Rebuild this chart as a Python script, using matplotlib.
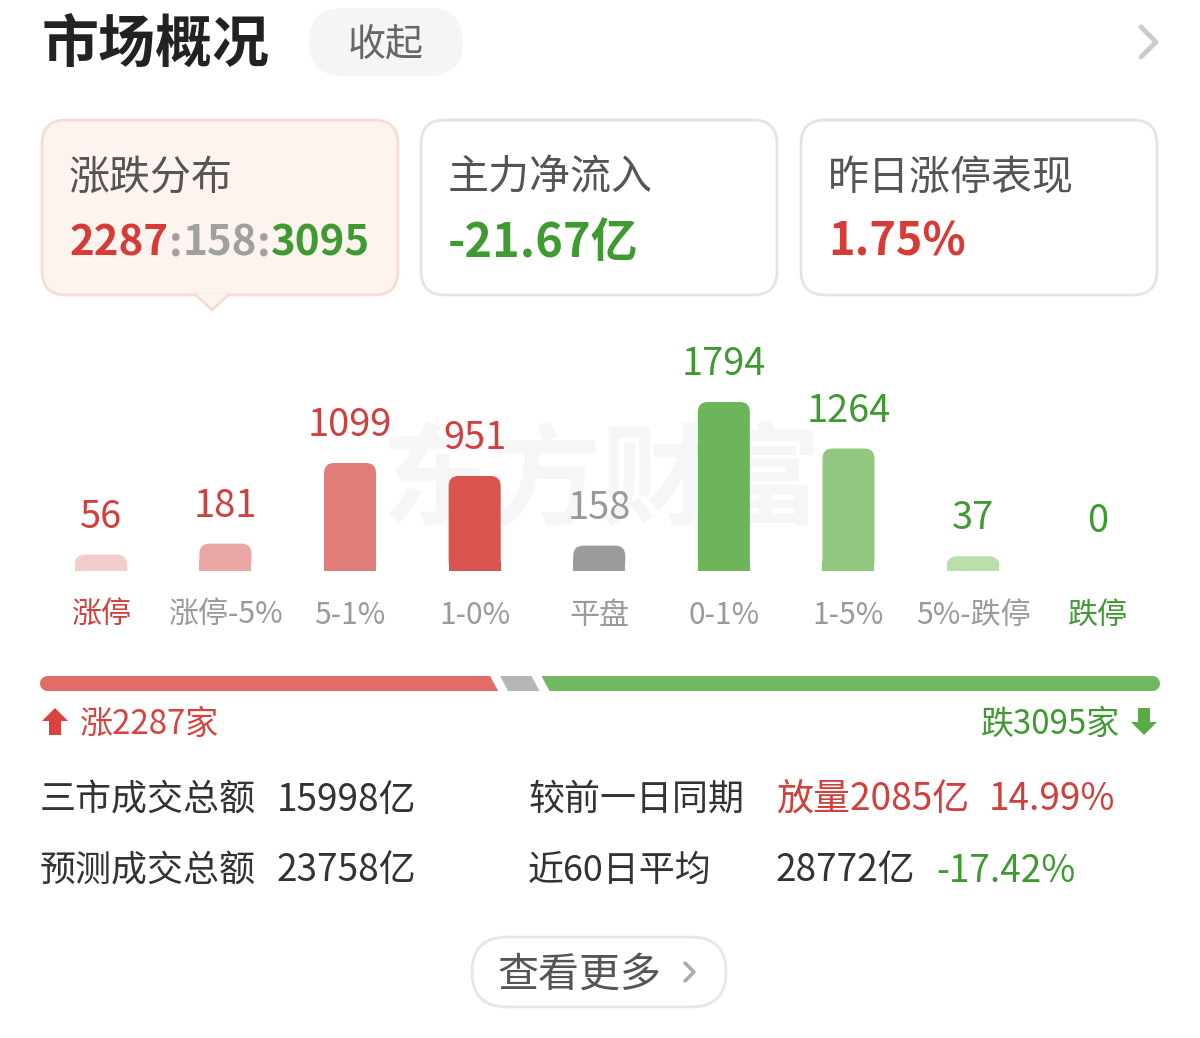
import numpy as np
import matplotlib
matplotlib.use('Agg')
import matplotlib.pyplot as plt
from matplotlib.patches import FancyBboxPatch, Rectangle, Polygon

plt.rcParams['font.family'] = ['Noto Sans CJK SC', 'DejaVu Sans']

# 数据
categories = ['涨停', '涨停-5%', '5-1%', '1-0%', '平盘', '0-1%', '1-5%', '5%-跌停', '跌停']
counts = [56, 181, 1099, 951, 158, 1794, 1264, 37, 0]
bar_colors = ['#f3cdcc', '#e9a6a5', '#e07d79', '#d9534f', '#9b9b9b',
              '#6db55a', '#92c77f', '#badfac', '#badfac']
value_colors = ['#d0403c'] * 4 + ['#999999'] + ['#3f9a32'] * 4
label_colors = ['#d0403c'] + ['#9a9a9a'] * 7 + ['#3f9a32']

up_n, flat_n, down_n = 2287, 158, 3095
card_titles = ['涨跌分布', '主力净流入', '昨日涨停表现']
net_inflow = '-21.67亿'
limit_perf = '1.75%'
stat_rows = [
    ['三市成交总额', '15998亿', '较前一日同期', '放量2085亿', '14.99%'],
    ['预测成交总额', '23758亿', '近60日平均', '28772亿', '-17.42%'],
]

RED = '#d63b36'
GREEN = '#3f9a32'
W, H = 1200, 1038
DY = 3  # 文字垂直微调

fig = plt.figure(figsize=(W / 100, H / 100), dpi=100)
fig.patch.set_facecolor('white')
base = fig.add_axes([0, 0, 1, 1])
base.set_xlim(0, W)
base.set_ylim(H, 0)
base.axis('off')


def px(size_px):
    return size_px * 72 / 100


def txt(x, y, s, size, color, weight='normal', ha='left', va='center', **kw):
    return base.text(x, y + DY, s, fontsize=px(size), color=color, fontweight=weight,
                     ha=ha, va=va, **kw)


# 顶部标题
txt(42, 42, '市场概况', 57, '#222222', weight='bold')
base.add_patch(FancyBboxPatch((309, 8), 154, 68, boxstyle='round,pad=0,rounding_size=34',
                              fc='#f4f5f7', ec='none'))
txt(386, 42, '收起', 38, '#666666', ha='center')
base.plot([1141, 1156, 1141], [27, 42, 57], color='#cccccc', lw=3.5,
          solid_capstyle='round', solid_joinstyle='round')

# 卡片
card_x = [42, 421, 801]
for i, cx in enumerate(card_x):
    if i == 0:
        fc, ec = '#fdf3ef', '#f6dcd3'
    else:
        fc, ec = 'white', '#e4e4e4'
    base.add_patch(FancyBboxPatch((cx, 120), 356, 175, boxstyle='round,pad=0,rounding_size=24',
                                  fc=fc, ec=ec, lw=2))
    txt(cx + 27, 175, card_titles[i], 41, '#555555')
# 小三角
base.add_patch(Polygon([[196, 294], [212, 310], [228, 294]], closed=True, fc='#fdf3ef', ec='none', zorder=3))
base.plot([196, 212, 228], [295, 310, 295], color='#f6dcd3', lw=2, zorder=3)

# 涨跌比
fig.canvas.draw()
r = fig.canvas.get_renderer()
inv = base.transData.inverted()
parts = [(f'{up_n}', RED), (':', '#a0a0a0'), (f'{flat_n}', '#a0a0a0'), (':', '#a0a0a0'), (f'{down_n}', GREEN)]
xx = 70
for s, c in parts:
    tt = txt(xx, 240, s, 42, c, weight='bold')
    bb = tt.get_window_extent(renderer=r)
    x0, _ = inv.transform((bb.x0, 0))
    x1, _ = inv.transform((bb.x1, 0))
    xx += (x1 - x0)
txt(448, 240, net_inflow, 47, GREEN, weight='bold')
txt(828, 240, limit_perf, 45, RED, weight='bold')

# 柱状图
bar_left, bar_right = 38.5, 1160
baseline_px, top_px = 571, 330
px_per_unit_y = 0.0878
min_units = 131
slot_px = (bar_right - bar_left) / len(categories)
ax = fig.add_axes([bar_left / W, (H - baseline_px) / H, (bar_right - bar_left) / W, (baseline_px - top_px) / H])
ax.set_xlim(-0.5, len(categories) - 0.5)
ax.set_ylim(0, (baseline_px - top_px) / px_per_unit_y)
ax.axis('off')
ax.patch.set_alpha(0)

base.text(602, 484, '东方财富', fontsize=px(110), color='#f6f6f6', fontweight='bold',
          ha='center', va='center', zorder=0)

bw = 52 / slot_px
rad = 10 / slot_px
aspect = (1 / px_per_unit_y) * slot_px
for i, v in enumerate(counts):
    hv = v + min_units
    if v > 0:
        ax.add_patch(FancyBboxPatch((i - bw / 2, 0), bw, hv,
                                    boxstyle=f'round,pad=0,rounding_size={rad}',
                                    mutation_aspect=aspect, fc=bar_colors[i], ec='none'))
        ax.add_patch(Rectangle((i - bw / 2, 0), bw, min(hv, rad * aspect), fc=bar_colors[i], ec='none'))
    ax.text(i, hv + 27 / px_per_unit_y, str(v), fontsize=px(38), color=value_colors[i],
            ha='center', va='baseline', clip_on=False)
    ax.text(i, -(612 + DY - baseline_px) / (baseline_px - top_px), categories[i], fontsize=px(30),
            color=label_colors[i], ha='center', va='center', transform=ax.get_xaxis_transform(),
            clip_on=False)

# 涨跌进度条
y0, y1 = 676, 691
rr = (y1 - y0) / 2
gap = 10
slant = 8
total = up_n + flat_n + down_n
avail = (1160 - 40) - 2 * gap
w_up = avail * up_n / total
w_flat = avail * flat_n / total
x_up_end = 40 + w_up
x_flat_end = x_up_end + gap + w_flat
ang = np.linspace(np.pi / 2, 3 * np.pi / 2, 20)
cy = (y0 + y1) / 2
left_arc = np.column_stack([40 + rr + rr * np.cos(ang), cy - rr * np.sin(ang)])
red_pts = np.vstack([[[x_up_end - slant / 2, y0], [x_up_end + slant / 2, y1]], left_arc[::-1]])
base.add_patch(Polygon(red_pts, closed=True, fc='#e26c68', ec='none'))
gx0 = x_up_end + gap
base.add_patch(Polygon([[gx0 - slant / 2, y0], [x_flat_end - slant / 2, y0],
                        [x_flat_end + slant / 2, y1], [gx0 + slant / 2, y1]],
                       closed=True, fc='#b6b6b6', ec='none'))
gr0 = x_flat_end + gap
ang2 = np.linspace(-np.pi / 2, np.pi / 2, 20)
right_arc = np.column_stack([1160 - rr + rr * np.cos(ang2), cy - rr * np.sin(ang2)])
green_pts = np.vstack([[[gr0 + slant / 2, y1], [gr0 - slant / 2, y0]], right_arc[::-1]])
base.add_patch(Polygon(green_pts, closed=True, fc='#72b862', ec='none'))

# 箭头
base.add_patch(Polygon([[55, 708], [68, 721], [61, 721], [61, 735], [49, 735], [49, 721], [42, 721]],
                       closed=True, fc='#d9433f', ec='none'))
txt(80, 721, f'涨{up_n}家', 33, '#d9433f')
base.add_patch(Polygon([[1144, 735], [1157, 722], [1150, 722], [1150, 708], [1138, 708], [1138, 722], [1131, 722]],
                       closed=True, fc='#5aaa46', ec='none'))
txt(1120, 721, f'跌{down_n}家', 33, '#3f9a32', ha='right')

# 成交额
row_y = [797, 868]
for (a, b, c, d, e), y in zip(stat_rows, row_y):
    txt(40, y, a, 36, '#333333')
    txt(277, y, b, 37, '#333333')
    txt(528, y, c, 36, '#333333')
    if d.startswith('放量'):
        txt(776, y, d, 37, '#d0403c')
        txt(989, y, e, 37, '#d0403c')
    else:
        txt(776, y, d, 37, '#333333')
        txt(936, y, e, 37, '#3f9a32')

# 查看更多
base.add_patch(FancyBboxPatch((472, 937), 254, 70, boxstyle='round,pad=0,rounding_size=35',
                              fc='white', ec='#e6e6e6', lw=2))
txt(497, 972, '查看更多', 41, '#555555')
base.plot([685, 694, 685], [963, 972, 981], color='#aaaaaa', lw=2.5,
          solid_capstyle='round', solid_joinstyle='round')

fig.savefig('out.png', dpi=100, facecolor='white')
